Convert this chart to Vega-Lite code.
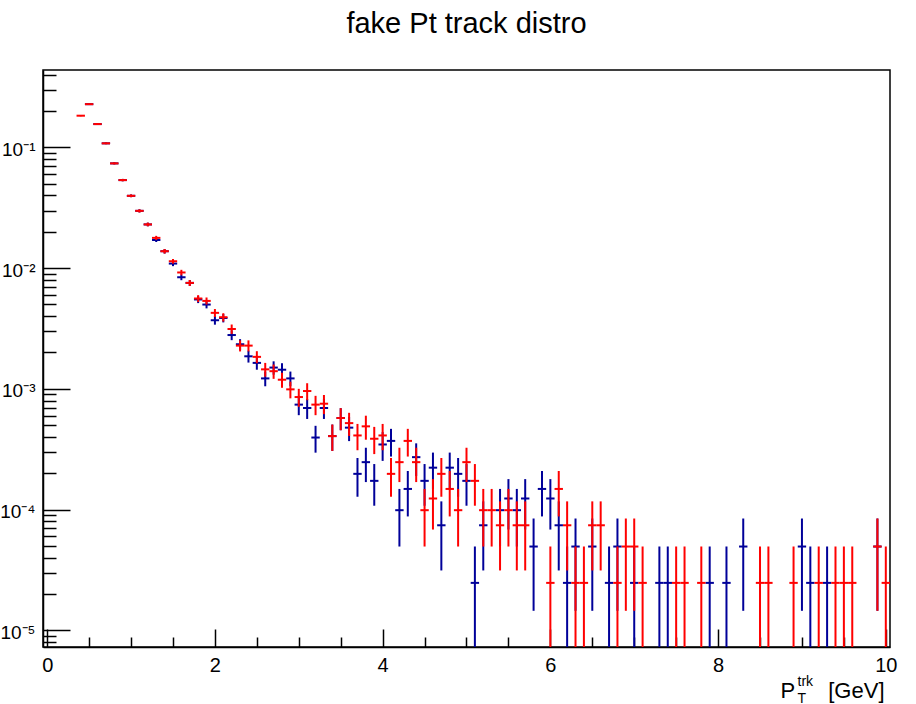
{
"$schema": "https://vega.github.io/schema/vega-lite/v6.json",
"width": 847, "height": 577,
"autosize": {"type": "none"},
"padding": {"left": 43, "top": 70, "right": 26, "bottom": 57},
"background": "white",
"title": {"text": "fake Pt track distro", "font": "Liberation Sans", "fontSize": 29, "fontWeight": "normal", "color": "black", "anchor": "middle", "baseline": "alphabetic", "offset": 8, "frame": "group"},
"config": {
  "view": {"stroke": "black", "strokeWidth": 1.5},
  "axis": {"grid": false, "domainColor": "black", "domainWidth": 1.5, "tickColor": "black", "tickWidth": 1.5, "labelFont": "Liberation Sans", "titleFont": "Liberation Sans", "labelColor": "black", "titleColor": "black", "titleFontWeight": "normal"}
},
"data": {"values": [
{"s":"B","x":0.5,"x0":0.45,"x1":0.55,"v":0.228,"lo":0.2256,"hi":0.2304},
{"s":"B","x":0.6,"x0":0.55,"x1":0.65,"v":0.156,"lo":0.154,"hi":0.158},
{"s":"B","x":0.7,"x0":0.65,"x1":0.75,"v":0.108,"lo":0.1064,"hi":0.1096},
{"s":"B","x":0.8,"x0":0.75,"x1":0.85,"v":0.0737,"lo":0.0724,"hi":0.0751},
{"s":"B","x":0.9,"x0":0.85,"x1":0.95,"v":0.0536,"lo":0.0524,"hi":0.0548},
{"s":"B","x":1.0,"x0":0.95,"x1":1.05,"v":0.0397,"lo":0.0387,"hi":0.0407},
{"s":"B","x":1.1,"x0":1.05,"x1":1.15,"v":0.0298,"lo":0.0289,"hi":0.0307},
{"s":"B","x":1.2,"x0":1.15,"x1":1.25,"v":0.023,"lo":0.0222,"hi":0.0238},
{"s":"B","x":1.3,"x0":1.25,"x1":1.35,"v":0.0171,"lo":0.01645,"hi":0.01775},
{"s":"B","x":1.4,"x0":1.35,"x1":1.45,"v":0.0138,"lo":0.0132,"hi":0.0144},
{"s":"B","x":1.5,"x0":1.45,"x1":1.55,"v":0.0109,"lo":0.01038,"hi":0.01142},
{"s":"B","x":1.6,"x0":1.55,"x1":1.65,"v":0.0084,"lo":0.00794,"hi":0.00886},
{"s":"B","x":1.7,"x0":1.65,"x1":1.75,"v":0.00754,"lo":0.00711,"hi":0.00797},
{"s":"B","x":1.8,"x0":1.75,"x1":1.85,"v":0.0055,"lo":0.00513,"hi":0.00587},
{"s":"B","x":1.9,"x0":1.85,"x1":1.95,"v":0.00499,"lo":0.00464,"hi":0.00534},
{"s":"B","x":2.0,"x0":1.95,"x1":2.05,"v":0.0037,"lo":0.0034,"hi":0.004},
{"s":"B","x":2.1,"x0":2.05,"x1":2.15,"v":0.00386,"lo":0.00355,"hi":0.00417},
{"s":"B","x":2.2,"x0":2.15,"x1":2.25,"v":0.00279,"lo":0.00253,"hi":0.00305},
{"s":"B","x":2.3,"x0":2.25,"x1":2.35,"v":0.00234,"lo":0.0021,"hi":0.00258},
{"s":"B","x":2.4,"x0":2.35,"x1":2.45,"v":0.00186,"lo":0.00165,"hi":0.00207},
{"s":"B","x":2.5,"x0":2.45,"x1":2.55,"v":0.00164,"lo":0.00144,"hi":0.00184},
{"s":"B","x":2.6,"x0":2.55,"x1":2.65,"v":0.00122,"lo":0.00105,"hi":0.00139},
{"s":"B","x":2.7,"x0":2.65,"x1":2.75,"v":0.0015,"lo":0.00131,"hi":0.00169},
{"s":"B","x":2.8,"x0":2.75,"x1":2.85,"v":0.00144,"lo":0.00125,"hi":0.00163},
{"s":"B","x":2.9,"x0":2.85,"x1":2.95,"v":0.00122,"lo":0.00105,"hi":0.00139},
{"s":"B","x":3.0,"x0":2.95,"x1":3.05,"v":0.00074,"lo":0.000605,"hi":0.000875},
{"s":"B","x":3.1,"x0":3.05,"x1":3.15,"v":0.000694,"lo":0.000563,"hi":0.000825},
{"s":"B","x":3.2,"x0":3.15,"x1":3.25,"v":0.000395,"lo":0.000296,"hi":0.000494},
{"s":"B","x":3.3,"x0":3.25,"x1":3.35,"v":0.000694,"lo":0.000563,"hi":0.000825},
{"s":"B","x":3.4,"x0":3.35,"x1":3.45,"v":0.000406,"lo":0.000306,"hi":0.000506},
{"s":"B","x":3.5,"x0":3.45,"x1":3.55,"v":0.000573,"lo":0.000454,"hi":0.000692},
{"s":"B","x":3.6,"x0":3.55,"x1":3.65,"v":0.000477,"lo":0.000369,"hi":0.000586},
{"s":"B","x":3.7,"x0":3.65,"x1":3.75,"v":0.0001976,"lo":0.0001277,"hi":0.0002675},
{"s":"B","x":3.8,"x0":3.75,"x1":3.85,"v":0.000247,"lo":0.0001689,"hi":0.0003251},
{"s":"B","x":3.9,"x0":3.85,"x1":3.95,"v":0.0001729,"lo":0.0001076,"hi":0.0002382},
{"s":"B","x":4.0,"x0":3.95,"x1":4.05,"v":0.000346,"lo":0.000253,"hi":0.000438},
{"s":"B","x":4.1,"x0":4.05,"x1":4.15,"v":0.0003705,"lo":0.0002748,"hi":0.0004662},
{"s":"B","x":4.2,"x0":4.15,"x1":4.25,"v":0.0000988,"lo":0.0000494,"hi":0.0001482},
{"s":"B","x":4.3,"x0":4.25,"x1":4.35,"v":0.0001482,"lo":0.0000877,"hi":0.0002087},
{"s":"B","x":4.4,"x0":4.35,"x1":4.45,"v":0.0002717,"lo":0.0001898,"hi":0.0003536},
{"s":"B","x":4.5,"x0":4.45,"x1":4.55,"v":0.0001729,"lo":0.0001076,"hi":0.0002382},
{"s":"B","x":4.6,"x0":4.55,"x1":4.65,"v":0.0002223,"lo":0.0001482,"hi":0.0002964},
{"s":"B","x":4.7,"x0":4.65,"x1":4.75,"v":0.0000741,"lo":0.0000313,"hi":0.0001169},
{"s":"B","x":4.8,"x0":4.75,"x1":4.85,"v":0.0002223,"lo":0.0001482,"hi":0.0002964},
{"s":"B","x":4.9,"x0":4.85,"x1":4.95,"v":0.0001976,"lo":0.0001277,"hi":0.0002675},
{"s":"B","x":5.0,"x0":4.95,"x1":5.05,"v":0.0001729,"lo":0.0001076,"hi":0.0002382},
{"s":"B","x":5.1,"x0":5.05,"x1":5.15,"v":0.0000247,"lo":0.000000001,"hi":0.0000494},
{"s":"B","x":5.2,"x0":5.15,"x1":5.25,"v":0.0000741,"lo":0.0000313,"hi":0.0001169},
{"s":"B","x":5.4,"x0":5.35,"x1":5.45,"v":0.0000988,"lo":0.0000494,"hi":0.0001482},
{"s":"B","x":5.5,"x0":5.45,"x1":5.55,"v":0.0001235,"lo":0.0000683,"hi":0.0001787},
{"s":"B","x":5.6,"x0":5.55,"x1":5.65,"v":0.0000988,"lo":0.0000494,"hi":0.0001482},
{"s":"B","x":5.7,"x0":5.65,"x1":5.75,"v":0.0001235,"lo":0.0000683,"hi":0.0001787},
{"s":"B","x":5.8,"x0":5.75,"x1":5.85,"v":0.0000494,"lo":0.0000145,"hi":0.0000843},
{"s":"B","x":5.9,"x0":5.85,"x1":5.95,"v":0.0001482,"lo":0.0000877,"hi":0.0002087},
{"s":"B","x":6.0,"x0":5.95,"x1":6.05,"v":0.0001235,"lo":0.0000683,"hi":0.0001787},
{"s":"B","x":6.1,"x0":6.05,"x1":6.15,"v":0.0000741,"lo":0.0000313,"hi":0.0001169},
{"s":"B","x":6.2,"x0":6.15,"x1":6.25,"v":0.0000247,"lo":0.000000001,"hi":0.0000494},
{"s":"B","x":6.3,"x0":6.25,"x1":6.35,"v":0.0000494,"lo":0.0000145,"hi":0.0000843},
{"s":"B","x":6.5,"x0":6.45,"x1":6.55,"v":0.0000494,"lo":0.0000145,"hi":0.0000843},
{"s":"B","x":6.7,"x0":6.65,"x1":6.75,"v":0.0000247,"lo":0.000000001,"hi":0.0000494},
{"s":"B","x":6.8,"x0":6.75,"x1":6.85,"v":0.0000494,"lo":0.0000145,"hi":0.0000843},
{"s":"B","x":7.0,"x0":6.95,"x1":7.05,"v":0.0000247,"lo":0.000000001,"hi":0.0000494},
{"s":"B","x":7.3,"x0":7.25,"x1":7.35,"v":0.0000247,"lo":0.000000001,"hi":0.0000494},
{"s":"B","x":7.4,"x0":7.35,"x1":7.45,"v":0.0000247,"lo":0.000000001,"hi":0.0000494},
{"s":"B","x":7.9,"x0":7.85,"x1":7.95,"v":0.0000247,"lo":0.000000001,"hi":0.0000494},
{"s":"B","x":8.1,"x0":8.05,"x1":8.15,"v":0.0000247,"lo":0.000000001,"hi":0.0000494},
{"s":"B","x":8.3,"x0":8.25,"x1":8.35,"v":0.0000494,"lo":0.0000145,"hi":0.0000843},
{"s":"B","x":9.0,"x0":8.95,"x1":9.05,"v":0.0000494,"lo":0.0000145,"hi":0.0000843},
{"s":"B","x":9.1,"x0":9.05,"x1":9.15,"v":0.0000247,"lo":0.000000001,"hi":0.0000494},
{"s":"B","x":9.3,"x0":9.25,"x1":9.35,"v":0.0000247,"lo":0.000000001,"hi":0.0000494},
{"s":"B","x":9.9,"x0":9.85,"x1":9.95,"v":0.0000494,"lo":0.0000145,"hi":0.0000843},
{"s":"R","x":0.4,"x0":0.35,"x1":0.45,"v":0.183,"lo":0.1809,"hi":0.1851},
{"s":"R","x":0.5,"x0":0.45,"x1":0.55,"v":0.228,"lo":0.2256,"hi":0.2304},
{"s":"R","x":0.6,"x0":0.55,"x1":0.65,"v":0.156,"lo":0.154,"hi":0.158},
{"s":"R","x":0.7,"x0":0.65,"x1":0.75,"v":0.108,"lo":0.1064,"hi":0.1096},
{"s":"R","x":0.8,"x0":0.75,"x1":0.85,"v":0.0737,"lo":0.0724,"hi":0.0751},
{"s":"R","x":0.9,"x0":0.85,"x1":0.95,"v":0.0536,"lo":0.0524,"hi":0.0548},
{"s":"R","x":1.0,"x0":0.95,"x1":1.05,"v":0.0397,"lo":0.0387,"hi":0.0407},
{"s":"R","x":1.1,"x0":1.05,"x1":1.15,"v":0.0298,"lo":0.0289,"hi":0.0307},
{"s":"R","x":1.2,"x0":1.15,"x1":1.25,"v":0.023,"lo":0.0222,"hi":0.0238},
{"s":"R","x":1.3,"x0":1.25,"x1":1.35,"v":0.0178,"lo":0.0171,"hi":0.0185},
{"s":"R","x":1.4,"x0":1.35,"x1":1.45,"v":0.0138,"lo":0.0132,"hi":0.0144},
{"s":"R","x":1.5,"x0":1.45,"x1":1.55,"v":0.0114,"lo":0.0109,"hi":0.0119},
{"s":"R","x":1.6,"x0":1.55,"x1":1.65,"v":0.0092,"lo":0.00872,"hi":0.00968},
{"s":"R","x":1.7,"x0":1.65,"x1":1.75,"v":0.00754,"lo":0.00711,"hi":0.00797},
{"s":"R","x":1.8,"x0":1.75,"x1":1.85,"v":0.0056,"lo":0.00523,"hi":0.00597},
{"s":"R","x":1.9,"x0":1.85,"x1":1.95,"v":0.00535,"lo":0.00499,"hi":0.00571},
{"s":"R","x":2.0,"x0":1.95,"x1":2.05,"v":0.00426,"lo":0.00394,"hi":0.00458},
{"s":"R","x":2.1,"x0":2.05,"x1":2.15,"v":0.00392,"lo":0.00361,"hi":0.00423},
{"s":"R","x":2.2,"x0":2.15,"x1":2.25,"v":0.00313,"lo":0.00285,"hi":0.00341},
{"s":"R","x":2.3,"x0":2.25,"x1":2.35,"v":0.00228,"lo":0.00204,"hi":0.00252},
{"s":"R","x":2.4,"x0":2.35,"x1":2.45,"v":0.00228,"lo":0.00204,"hi":0.00252},
{"s":"R","x":2.5,"x0":2.45,"x1":2.55,"v":0.00184,"lo":0.00163,"hi":0.00205},
{"s":"R","x":2.6,"x0":2.55,"x1":2.65,"v":0.00145,"lo":0.00126,"hi":0.00164},
{"s":"R","x":2.7,"x0":2.65,"x1":2.75,"v":0.0014,"lo":0.00121,"hi":0.00159},
{"s":"R","x":2.8,"x0":2.75,"x1":2.85,"v":0.00119,"lo":0.00102,"hi":0.00136},
{"s":"R","x":2.9,"x0":2.85,"x1":2.95,"v":0.00099,"lo":0.000834,"hi":0.001146},
{"s":"R","x":3.0,"x0":2.95,"x1":3.05,"v":0.000855,"lo":0.00071,"hi":0.001},
{"s":"R","x":3.1,"x0":3.05,"x1":3.15,"v":0.000959,"lo":0.000805,"hi":0.001113},
{"s":"R","x":3.2,"x0":3.15,"x1":3.25,"v":0.00074,"lo":0.000605,"hi":0.000875},
{"s":"R","x":3.3,"x0":3.25,"x1":3.35,"v":0.000753,"lo":0.000617,"hi":0.000889},
{"s":"R","x":3.4,"x0":3.35,"x1":3.45,"v":0.000406,"lo":0.000306,"hi":0.000506},
{"s":"R","x":3.5,"x0":3.45,"x1":3.55,"v":0.000573,"lo":0.000454,"hi":0.000692},
{"s":"R","x":3.6,"x0":3.55,"x1":3.65,"v":0.00052,"lo":0.000407,"hi":0.000633},
{"s":"R","x":3.7,"x0":3.65,"x1":3.75,"v":0.000411,"lo":0.00031,"hi":0.000512},
{"s":"R","x":3.8,"x0":3.75,"x1":3.85,"v":0.000489,"lo":0.000379,"hi":0.000599},
{"s":"R","x":3.9,"x0":3.85,"x1":3.95,"v":0.000386,"lo":0.000288,"hi":0.000484},
{"s":"R","x":4.0,"x0":3.95,"x1":4.05,"v":0.000411,"lo":0.00031,"hi":0.000512},
{"s":"R","x":4.1,"x0":4.05,"x1":4.15,"v":0.0001976,"lo":0.0001277,"hi":0.0002675},
{"s":"R","x":4.2,"x0":4.15,"x1":4.25,"v":0.000247,"lo":0.0001689,"hi":0.0003251},
{"s":"R","x":4.3,"x0":4.25,"x1":4.35,"v":0.0003705,"lo":0.0002748,"hi":0.0004662},
{"s":"R","x":4.4,"x0":4.35,"x1":4.45,"v":0.000247,"lo":0.0001689,"hi":0.0003251},
{"s":"R","x":4.5,"x0":4.45,"x1":4.55,"v":0.0000988,"lo":0.0000494,"hi":0.0001482},
{"s":"R","x":4.6,"x0":4.55,"x1":4.65,"v":0.0001235,"lo":0.0000683,"hi":0.0001787},
{"s":"R","x":4.7,"x0":4.65,"x1":4.75,"v":0.0001976,"lo":0.0001277,"hi":0.0002675},
{"s":"R","x":4.8,"x0":4.75,"x1":4.85,"v":0.0001482,"lo":0.0000877,"hi":0.0002087},
{"s":"R","x":4.9,"x0":4.85,"x1":4.95,"v":0.0000988,"lo":0.0000494,"hi":0.0001482},
{"s":"R","x":5.0,"x0":4.95,"x1":5.05,"v":0.000247,"lo":0.0001689,"hi":0.0003251},
{"s":"R","x":5.1,"x0":5.05,"x1":5.15,"v":0.0001729,"lo":0.0001076,"hi":0.0002382},
{"s":"R","x":5.2,"x0":5.15,"x1":5.25,"v":0.0000988,"lo":0.0000494,"hi":0.0001482},
{"s":"R","x":5.3,"x0":5.25,"x1":5.35,"v":0.0000988,"lo":0.0000494,"hi":0.0001482},
{"s":"R","x":5.4,"x0":5.35,"x1":5.45,"v":0.0000741,"lo":0.0000313,"hi":0.0001169},
{"s":"R","x":5.5,"x0":5.45,"x1":5.55,"v":0.0000988,"lo":0.0000494,"hi":0.0001482},
{"s":"R","x":5.6,"x0":5.55,"x1":5.65,"v":0.0000741,"lo":0.0000313,"hi":0.0001169},
{"s":"R","x":5.7,"x0":5.65,"x1":5.75,"v":0.0000741,"lo":0.0000313,"hi":0.0001169},
{"s":"R","x":6.0,"x0":5.95,"x1":6.05,"v":0.0000247,"lo":0.000000001,"hi":0.0000494},
{"s":"R","x":6.1,"x0":6.05,"x1":6.15,"v":0.0001482,"lo":0.0000877,"hi":0.0002087},
{"s":"R","x":6.2,"x0":6.15,"x1":6.25,"v":0.0000741,"lo":0.0000313,"hi":0.0001169},
{"s":"R","x":6.3,"x0":6.25,"x1":6.35,"v":0.0000247,"lo":0.000000001,"hi":0.0000494},
{"s":"R","x":6.4,"x0":6.35,"x1":6.45,"v":0.0000247,"lo":0.000000001,"hi":0.0000494},
{"s":"R","x":6.5,"x0":6.45,"x1":6.55,"v":0.0000741,"lo":0.0000313,"hi":0.0001169},
{"s":"R","x":6.6,"x0":6.55,"x1":6.65,"v":0.0000741,"lo":0.0000313,"hi":0.0001169},
{"s":"R","x":6.8,"x0":6.75,"x1":6.85,"v":0.0000247,"lo":0.000000001,"hi":0.0000494},
{"s":"R","x":6.9,"x0":6.85,"x1":6.95,"v":0.0000494,"lo":0.0000145,"hi":0.0000843},
{"s":"R","x":7.0,"x0":6.95,"x1":7.05,"v":0.0000494,"lo":0.0000145,"hi":0.0000843},
{"s":"R","x":7.1,"x0":7.05,"x1":7.15,"v":0.0000247,"lo":0.000000001,"hi":0.0000494},
{"s":"R","x":7.5,"x0":7.45,"x1":7.55,"v":0.0000247,"lo":0.000000001,"hi":0.0000494},
{"s":"R","x":7.6,"x0":7.55,"x1":7.65,"v":0.0000247,"lo":0.000000001,"hi":0.0000494},
{"s":"R","x":7.8,"x0":7.75,"x1":7.85,"v":0.0000247,"lo":0.000000001,"hi":0.0000494},
{"s":"R","x":8.5,"x0":8.45,"x1":8.55,"v":0.0000247,"lo":0.000000001,"hi":0.0000494},
{"s":"R","x":8.6,"x0":8.55,"x1":8.65,"v":0.0000247,"lo":0.000000001,"hi":0.0000494},
{"s":"R","x":8.9,"x0":8.85,"x1":8.95,"v":0.0000247,"lo":0.000000001,"hi":0.0000494},
{"s":"R","x":9.2,"x0":9.15,"x1":9.25,"v":0.0000247,"lo":0.000000001,"hi":0.0000494},
{"s":"R","x":9.4,"x0":9.35,"x1":9.45,"v":0.0000247,"lo":0.000000001,"hi":0.0000494},
{"s":"R","x":9.5,"x0":9.45,"x1":9.55,"v":0.0000247,"lo":0.000000001,"hi":0.0000494},
{"s":"R","x":9.6,"x0":9.55,"x1":9.65,"v":0.0000247,"lo":0.000000001,"hi":0.0000494},
{"s":"R","x":9.9,"x0":9.85,"x1":9.95,"v":0.0000494,"lo":0.0000145,"hi":0.0000843},
{"s":"R","x":10.0,"x0":9.95,"x1":10.05,"v":0.0000247,"lo":0.000000001,"hi":0.0000494}
]},
"resolve": {"axis": {"x": "independent", "y": "independent"}},
"layer": [
{
 "transform": [{"filter": "datum.s === 'B'"}],
 "mark": {"type": "rule", "color": "#000099", "strokeWidth": 2, "clip": true},
 "encoding": {
  "x": {"field": "x", "type": "quantitative", "scale": {"domain": [-0.05, 10.05], "nice": false, "zero": false},
        "axis": {"orient": "bottom", "values": [0, 2, 4, 6, 8, 10], "tickSize": -18, "labelFontSize": 20, "labelPadding": 26, "labelFlush": false, "labelOverlap": false, "title": "[GeV]", "titleFontSize": 22, "titleX": 841, "titleY": 50, "titleAlign": "right", "titleBaseline": "alphabetic", "titleAngle": 0}},
  "y": {"field": "lo", "type": "quantitative", "scale": {"type": "log", "domain": [0.00000727, 0.4375], "nice": false},
        "axis": {"orient": "left", "values": [0.1, 0.01, 0.001, 0.0001, 0.00001], "tickSize": -27, "labelFontSize": 19, "labelPadding": 35, "labelOffset": 2, "labelFlush": false, "labelOverlap": false, "title": null,
                 "labelExpr": "'10' + ['', '⁻¹', '⁻²', '⁻³', '⁻⁴', '⁻⁵'][-round(log(datum.value) / LN10)]"}},
  "y2": {"field": "hi"}
 }
},
{
 "transform": [{"filter": "datum.s === 'B'"}],
 "mark": {"type": "rule", "color": "#000099", "strokeWidth": 2, "clip": true},
 "encoding": {
  "x": {"field": "x0", "type": "quantitative", "scale": {"domain": [-0.05, 10.05], "nice": false, "zero": false},
        "axis": {"orient": "bottom", "values": [0.5, 1, 1.5, 2.5, 3, 3.5, 4.5, 5, 5.5, 6.5, 7, 7.5, 8.5, 9, 9.5], "tickSize": -10, "labels": false, "domain": false, "title": "P", "titleFontSize": 22, "titleX": 737, "titleY": 50, "titleAlign": "left", "titleBaseline": "alphabetic", "titleAngle": 0}},
  "x2": {"field": "x1"},
  "y": {"field": "v", "type": "quantitative", "scale": {"type": "log", "domain": [0.00000727, 0.4375], "nice": false},
        "axis": {"orient": "left", "values": [0.000008, 0.000009, 0.00002, 0.00003, 0.00004, 0.00005, 0.00006, 0.00007, 0.00008, 0.00009, 0.0002, 0.0003, 0.0004, 0.0005, 0.0006, 0.0007, 0.0008, 0.0009, 0.002, 0.003, 0.004, 0.005, 0.006, 0.007, 0.008, 0.009, 0.02, 0.03, 0.04, 0.05, 0.06, 0.07, 0.08, 0.09, 0.2, 0.3, 0.4], "tickSize": -13, "labels": false, "domain": false, "title": null}}
 }
},
{
 "transform": [{"filter": "datum.s === 'R'"}],
 "mark": {"type": "rule", "color": "#ff0000", "strokeWidth": 2, "clip": true},
 "encoding": {
  "x": {"field": "x", "type": "quantitative", "scale": {"domain": [-0.05, 10.05], "nice": false, "zero": false},
        "axis": {"orient": "bottom", "ticks": false, "labels": false, "domain": false, "title": "trk", "titleFontSize": 14, "titleX": 754, "titleY": 38, "titleAlign": "left", "titleBaseline": "alphabetic", "titleAngle": 0}},
  "y": {"field": "lo", "type": "quantitative", "scale": {"type": "log", "domain": [0.00000727, 0.4375], "nice": false}, "axis": null},
  "y2": {"field": "hi"}
 }
},
{
 "transform": [{"filter": "datum.s === 'R'"}],
 "mark": {"type": "rule", "color": "#ff0000", "strokeWidth": 2, "clip": true},
 "encoding": {
  "x": {"field": "x0", "type": "quantitative", "scale": {"domain": [-0.05, 10.05], "nice": false, "zero": false},
        "axis": {"orient": "bottom", "ticks": false, "labels": false, "domain": false, "title": "T", "titleFontSize": 14, "titleX": 754, "titleY": 55, "titleAlign": "left", "titleBaseline": "alphabetic", "titleAngle": 0}},
  "x2": {"field": "x1"},
  "y": {"field": "v", "type": "quantitative", "scale": {"type": "log", "domain": [0.00000727, 0.4375], "nice": false}, "axis": null}
 }
}
]
}
